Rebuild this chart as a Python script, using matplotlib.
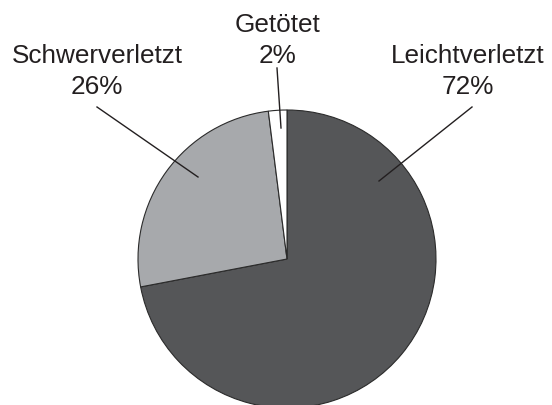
import matplotlib
matplotlib.use('Agg')
import matplotlib.pyplot as plt

plt.rcParams['font.family'] = ['Liberation Sans', 'DejaVu Sans']

labels = ['Leichtverletzt', 'Schwerverletzt', 'Getötet']
shares = [72, 26, 2]
colors = ['#555658', '#a7a9ac', '#ffffff']

W, H = 552, 405
fig = plt.figure(figsize=(W / 100, H / 100), dpi=100)
ax = fig.add_axes([0, 0, 1, 1])

cx, cy, r = 287, H - 259, 149
ax.pie(shares, colors=colors, startangle=90, counterclock=False,
       center=(cx, cy), radius=r, frame=True,
       wedgeprops=dict(edgecolor='#2b2b2b', linewidth=0.8))
ax.set_xlim(0, W)
ax.set_ylim(0, H)
ax.set_aspect('equal')
ax.axis('off')

# label positions (image px: x center, baseline of first line)
label_pos = {'Leichtverletzt': (468, 63), 'Schwerverletzt': (97, 63), 'Getötet': (278, 32)}
line_pts = {'Leichtverletzt': ((472, 107), (379, 181)),
            'Schwerverletzt': ((97, 107), (198, 177)),
            'Getötet': ((277, 68), (281, 128))}

for name, pct in zip(labels, shares):
    x, y = label_pos[name]
    ax.text(x, H - y, name, ha='center', va='baseline', fontsize=18.8, color='#231f20')
    ax.text(x, H - y - 31, f'{pct}%', ha='center', va='baseline', fontsize=18.8, color='#231f20')
    (x0, y0), (x1, y1) = line_pts[name]
    ax.plot([x0, x1], [H - y0, H - y1], color='#231f20', linewidth=1.0)

fig.savefig('out.png', dpi=100)
